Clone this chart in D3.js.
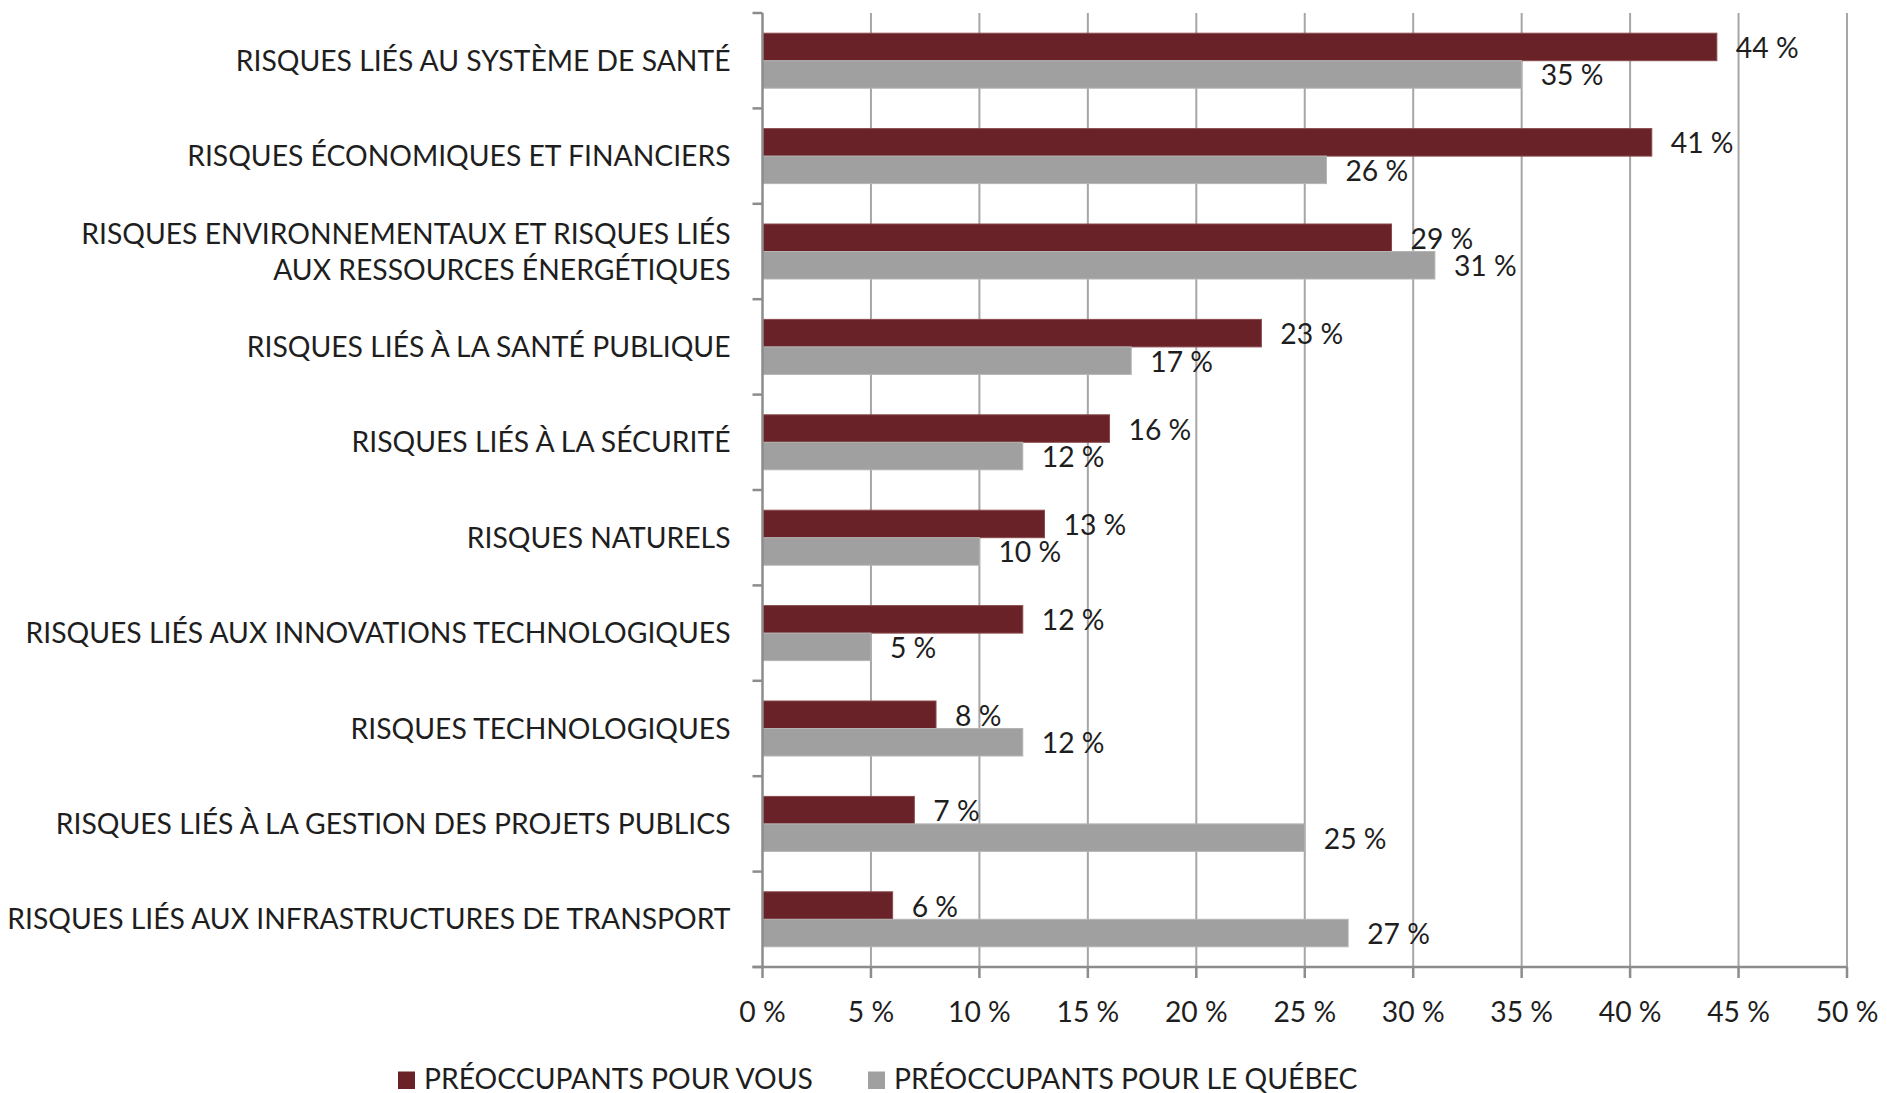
<!DOCTYPE html>
<html>
<head>
<meta charset="utf-8">
<script src="https://cdn.jsdelivr.net/npm/d3@7"></script>
<style>
  body { margin: 0; background: #fff; }
  text { font-family: Lato, sans-serif; fill: #1e1e1e; }
</style>
</head>
<body>
<svg id="mainsvg" width="1887" height="1093"></svg>
<script>
const categories = [
    ['RISQUES LIÉS AU SYSTÈME DE SANTÉ'],
    ['RISQUES ÉCONOMIQUES ET FINANCIERS'],
    ['RISQUES ENVIRONNEMENTAUX ET RISQUES LIÉS', 'AUX RESSOURCES ÉNERGÉTIQUES'],
    ['RISQUES LIÉS À LA SANTÉ PUBLIQUE'],
    ['RISQUES LIÉS À LA SÉCURITÉ'],
    ['RISQUES NATURELS'],
    ['RISQUES LIÉS AUX INNOVATIONS TECHNOLOGIQUES'],
    ['RISQUES TECHNOLOGIQUES'],
    ['RISQUES LIÉS À LA GESTION DES PROJETS PUBLICS'],
    ['RISQUES LIÉS AUX INFRASTRUCTURES DE TRANSPORT']
];
const vous = [44, 41, 29, 23, 16, 13, 12, 8, 7, 6];
const quebec = [35, 26, 31, 17, 12, 10, 5, 12, 25, 27];
const xTicks = [0, 5, 10, 15, 20, 25, 30, 35, 40, 45, 50];
const seriesNames = ['PRÉOCCUPANTS POUR VOUS', 'PRÉOCCUPANTS POUR LE QUÉBEC'];
const seriesColors = ['#692227', '#a0a0a0'];

const svg = d3.select('#mainsvg');
const margin = { top: 13, left: 762.5 };
const innerWidth = 1847 - margin.left;
const innerHeight = 967 - margin.top;
const fontSize = 28.3;
const capShift = 10; // baseline offset from visual centre of capitals

const g = svg.append('g')
    .attr('transform', `translate(${margin.left},${margin.top})`);

const x = d3.scaleLinear().domain([0, 50]).range([0, innerWidth]);
const y = d3.scaleBand().domain(d3.range(categories.length)).range([0, innerHeight]);
const barH = 27.5;
const offset = (y.bandwidth() - 2 * barH) / 2;

// vertical grid lines
g.selectAll('.grid').data(xTicks.slice(1)).enter()
    .append('line')
    .attr('x1', d => x(d)).attr('x2', d => x(d))
    .attr('y1', 0).attr('y2', innerHeight)
    .attr('stroke', '#a6a6a6').attr('stroke-width', 2);

// bars
const rows = categories.map((c, i) => ({ i, vous: vous[i], quebec: quebec[i] }));
g.selectAll('.bv').data(rows).enter()
    .append('rect')
    .attr('x', 0).attr('y', d => y(d.i) + offset)
    .attr('width', d => x(d.vous)).attr('height', barH)
    .attr('fill', seriesColors[0]).attr('stroke', '#8a4a4d').attr('stroke-width', 1);
g.selectAll('.bq').data(rows).enter()
    .append('rect')
    .attr('x', 0).attr('y', d => y(d.i) + offset + barH)
    .attr('width', d => x(d.quebec)).attr('height', barH)
    .attr('fill', seriesColors[1]).attr('stroke', '#b4b4b4').attr('stroke-width', 1);

// value labels
g.selectAll('.lv').data(rows).enter()
    .append('text')
    .attr('x', d => x(d.vous) + 19)
    .attr('y', d => y(d.i) + offset + barH / 2 + 1 + capShift)
    .attr('font-size', fontSize)
    .text(d => d.vous + ' %');
g.selectAll('.lq').data(rows).enter()
    .append('text')
    .attr('x', d => x(d.quebec) + 19)
    .attr('y', d => y(d.i) + offset + barH * 1.5 + 1 + capShift)
    .attr('font-size', fontSize)
    .text(d => d.quebec + ' %');

// y axis
const yAxis = g.append('g');
yAxis.append('line')
    .attr('x1', 0).attr('x2', 0).attr('y1', 0).attr('y2', innerHeight)
    .attr('stroke', '#8c8c8c').attr('stroke-width', 2.5);
yAxis.selectAll('.yt').data(d3.range(categories.length + 1)).enter()
    .append('line')
    .attr('x1', -10).attr('x2', 0)
    .attr('y1', d => d * y.step()).attr('y2', d => d * y.step())
    .attr('stroke', '#8c8c8c').attr('stroke-width', 2.5);

// category labels
const lab = g.selectAll('.cat').data(categories).enter()
    .append('text')
    .attr('text-anchor', 'end')
    .attr('font-size', fontSize)
    .attr('transform', (d, i) => `translate(-32,${y(i) + y.bandwidth() / 2})`);
lab.each(function(d) {
    const t = d3.select(this);
    const lh = 36;
    d.forEach((line, k) => {
        t.append('tspan')
            .attr('x', 0)
            .attr('y', (k - (d.length - 1) / 2) * lh + capShift)
            .text(line);
    });
});

// x axis
const xAxis = g.append('g').attr('transform', `translate(0,${innerHeight})`);
xAxis.append('line')
    .attr('x1', -10).attr('x2', innerWidth)
    .attr('stroke', '#8c8c8c').attr('stroke-width', 2.5);
xAxis.selectAll('.xt').data(xTicks).enter()
    .append('line')
    .attr('x1', d => x(d)).attr('x2', d => x(d))
    .attr('y1', 0).attr('y2', 11)
    .attr('stroke', '#8c8c8c').attr('stroke-width', 2.5);
xAxis.selectAll('.xl').data(xTicks).enter()
    .append('text')
    .attr('x', d => x(d))
    .attr('y', 45 + capShift)
    .attr('text-anchor', 'middle')
    .attr('font-size', fontSize)
    .text(d => d + ' %');

// legend
const legendX = [398, 868];
const legend = svg.selectAll('.leg').data(seriesNames).enter()
    .append('g')
    .attr('transform', (d, i) => `translate(${legendX[i]},1089)`);
legend.append('rect')
    .attr('x', 0).attr('y', -17.5).attr('width', 17).attr('height', 17.5)
    .attr('fill', (d, i) => seriesColors[i]);
legend.append('text')
    .attr('x', 26).attr('y', 0)
    .attr('font-size', fontSize)
    .text(d => d);
</script>
</body>
</html>
